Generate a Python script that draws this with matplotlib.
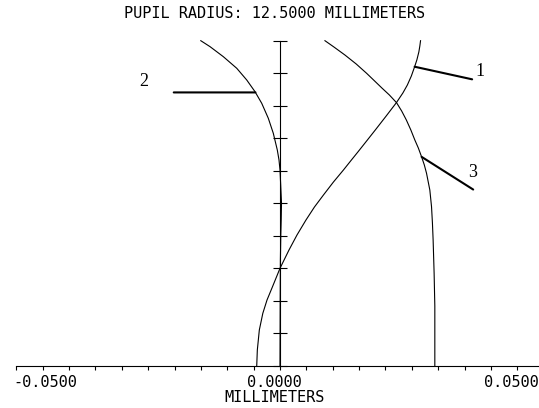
import numpy as np
import matplotlib
matplotlib.use("Agg")
import matplotlib.pyplot as plt

# Longitudinal aberration vs. normalised pupil height, three wavelengths
pupil_1 = [0.0, 0.0492, 0.1107, 0.1620, 0.2029, 0.2438, 0.3003, 0.3566, 0.4027,
           0.4488, 0.4888, 0.5257, 0.5656, 0.6025, 0.6333, 0.6588, 0.6948,
           0.7255, 0.7685, 0.8094, 0.8392, 0.8638, 0.8915, 0.9201, 0.9407,
           0.9653, 0.9837, 1.0]
focus_1 = [-0.004413, -0.004299, -0.003920, -0.003258, -0.002462, -0.001420,
           0.0, 0.001705, 0.003220, 0.004924, 0.006534, 0.008239, 0.010133,
           0.012027, 0.013542, 0.014811, 0.016572, 0.018068, 0.020133,
           0.022064, 0.023295, 0.024148, 0.024905, 0.025530, 0.025947,
           0.026326, 0.026515, 0.026648]

pupil_2 = [0.0, 0.2029, 0.3259, 0.4027, 0.4488, 0.5011, 0.5564, 0.6025, 0.6333,
           0.6640, 0.7153, 0.7615, 0.8076, 0.8432, 0.8792, 0.9152, 0.9508,
           0.9816, 1.0]
focus_2 = [0.0, 0.000038, 0.000076, 0.000152, 0.000227, 0.000284, 0.000133,
           0.0, -0.000189, -0.000511, -0.001269, -0.002216, -0.003466,
           -0.004735, -0.006307, -0.008201, -0.010739, -0.013258, -0.015019]

pupil_3 = [0.0, 0.1844, 0.2850, 0.3873, 0.4396, 0.4897, 0.5410, 0.5924, 0.6179,
           0.6434, 0.6701, 0.6947, 0.7255, 0.7562, 0.7839, 0.8094, 0.8331,
           0.8546, 0.8792, 0.8998, 0.9284, 0.9560, 0.9806, 1.0]
focus_3 = [0.029356, 0.029356, 0.029223, 0.029034, 0.028902, 0.028731,
           0.028409, 0.027784, 0.027367, 0.026837, 0.026231, 0.025568,
           0.024811, 0.023958, 0.023068, 0.022102, 0.020739, 0.019318,
           0.017746, 0.016420, 0.014451, 0.012311, 0.010227, 0.008523]

curve_labels = ["1", "2", "3"]
label_pupil = [0.920, 0.841, 0.643]

x_min, x_max, x_step = -0.05, 0.05, 0.005
title = "PUPIL RADIUS: 12.5000 MILLIMETERS"
x_label = "MILLIMETERS"

mono = "DejaVu Sans Mono"

fig = plt.figure(figsize=(5.39, 4.08), dpi=100)
W, H = 539, 408
# axes frame in pixels: the +0.05 end runs a little past the right edge
left_px, right_px, bottom_px, top_px = 16.3, 543.7, 366, 40.7
ax = fig.add_axes([left_px / W, 1 - bottom_px / H,
                   (right_px - left_px) / W, (bottom_px - top_px) / H])
ax.set_xlim(x_min, x_max)
ax.set_ylim(0, 1)
ax.patch.set_alpha(0)

for s in ["top", "right"]:
    ax.spines[s].set_visible(False)
ax.spines["bottom"].set_linewidth(0.8)
ax.spines["left"].set_position(("data", 0))
ax.spines["left"].set_linewidth(0.8)

ax.set_xticks(np.arange(x_min, x_max + 1e-9, x_step))
ax.set_xticklabels([])
ax.tick_params(axis="x", direction="out", length=3.1, width=0.8)
ax.set_yticks(np.arange(0, 1.0001, 0.1))
ax.set_yticklabels([])
ax.tick_params(axis="y", direction="inout", length=10.2, width=0.8)

curves = [(pupil_1, focus_1), (pupil_2, focus_2), (pupil_3, focus_3)]
for p, f in curves:
    ax.plot(f, p, color="black", lw=0.8, clip_on=False,
            solid_joinstyle="round")

# leader lines and numbers (offsets in pixels)
leader_off = [(57.5, -12.6), (-81.7, 0.0), (51.6, -32.7)]
text_off = [(65, -5), (-111.5, 10.6), (51, -16)]
for (p, f), name, lp, lo, to in zip(curves, curve_labels, label_pupil,
                                    leader_off, text_off):
    fx = np.interp(lp, p, f)
    ax.annotate("", xy=(fx, lp), xytext=lo, textcoords="offset pixels",
                arrowprops=dict(arrowstyle="-", lw=1.5, color="black",
                                shrinkA=0, shrinkB=0))
    ax.annotate(name, xy=(fx, lp), xytext=to, textcoords="offset pixels",
                ha="center", va="center", fontsize=13,
                family="Liberation Serif")

# axis numbers and caption
tick_text = [("-0.0500", x_min, -3, "left"),
             ("0.0000", 0.0, -5.5, "center"),
             ("0.0500", x_max, -5.4, "right")]
for txt, xv, dx, ha in tick_text:
    ax.annotate(txt, xy=(xv, 0), xytext=(dx, -16.5), textcoords="offset pixels",
                ha=ha, va="center", fontsize=11, family=mono)
ax.annotate(x_label, xy=(0, 0), xytext=(-5, -32), textcoords="offset pixels",
            ha="center", va="center", fontsize=11, family=mono)

fig.text(274.6 / W, 1 - 13.7 / H, title, ha="center", va="center",
         fontsize=11, family=mono)

fig.savefig("out.png", dpi=100)
